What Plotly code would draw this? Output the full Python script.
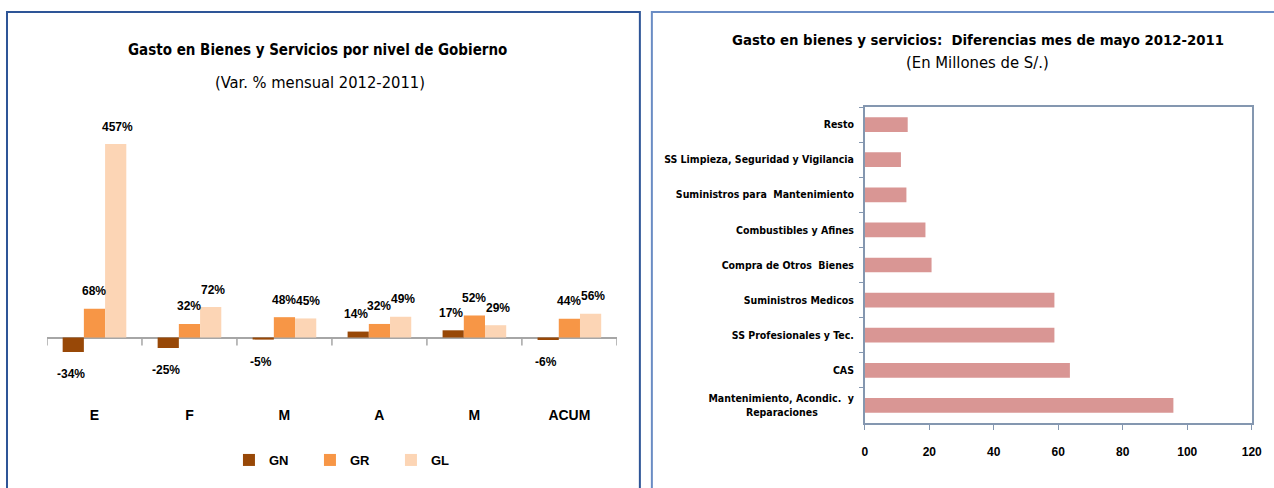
import plotly.graph_objects as go

W, H = 1274, 488
def px(x): return ((x - 3) / 0.99) / W
def py(y): return 1 - y / H

# ---------------- data ----------------
meses = ["E", "F", "M", "A", "M", "ACUM"]
gn = [-34, -25, -5, 14, 17, -6]
gr = [68, 32, 48, 32, 52, 44]
gl = [457, 72, 45, 49, 29, 56]
series_names = ["GN", "GR", "GL"]

conceptos = ["Resto", "SS Limpieza, Seguridad y Vigilancia", "Suministros para  Mantenimiento",
             "Combustibles y Afines", "Compra de Otros  Bienes", "Suministros Medicos",
             "SS Profesionales y Tec.", "CAS",
             "Mantenimiento, Acondic.  y<br>Reparaciones\u00a0\u00a0\u00a0\u00a0\u00a0\u00a0\u00a0\u00a0\u00a0\u00a0\u00a0"]
diferencias = [13.3, 11.2, 12.9, 18.8, 20.7, 58.8, 58.8, 63.6, 95.7]

# ---------------- style ----------------
NARROW = "DejaVu Sans Condensed, Liberation Sans Narrow, sans-serif"
SANS = "Liberation Sans, Arial, sans-serif"
colors = ["#984807", "#F79646", "#FCD5B5"]
bargap = 0.33

L_x0, L_x1 = 47, 617
L_top, L_bot = 100, 405
zero_px = 337.5
scale = (337.5 - 144) / 457.0  # px per %
y_max = (zero_px - L_top) / scale
y_min = -(L_bot - zero_px) / scale

fig = go.Figure()
xs = list(range(len(meses)))
for name, vals, col in zip(series_names, [gn, gr, gl], colors):
    fig.add_trace(go.Bar(x=xs, y=vals, name=name, marker=dict(color=col, line=dict(width=0)),
                         xaxis="x", yaxis="y", hoverinfo="y"))

fig.add_trace(go.Bar(y=conceptos, x=diferencias, orientation="h", showlegend=False,
                     marker=dict(color="#D99694", line=dict(width=0)),
                     xaxis="x2", yaxis="y2", width=0.42))

annotations = []
w = (1 - bargap) / 3
for k, vals in enumerate([gn, gr, gl]):
    for i, v in enumerate(vals):
        annotations.append(dict(x=i + (k - 1) * w, y=v, xref="x", yref="y",
                                text=f"{v}%", showarrow=False,
                                xanchor="center", yanchor="middle",
                                xshift=(k - 1) * 2,
                                yshift=17.5 if v >= 0 else -22,
                                font=dict(family=SANS, size=12, color="#000000", weight="bold")))

# titles
def title(x, y, text, size, bold):
    return dict(x=px(x), y=py(y), xref="paper", yref="paper", showarrow=False,
                xanchor="center", yanchor="middle", text=text,
                font=dict(family=NARROW, size=size, color="#000",
                          weight="bold" if bold else "normal"))

annotations += [
    title(318, 50, "Gasto en Bienes y Servicios por nivel de Gobierno", 15, True),
    title(320, 82, "(Var. % mensual 2012-2011)", 16.4, False),
    title(978, 40, "Gasto en bienes y servicios:  Diferencias mes de mayo 2012-2011", 14.8, True),
    title(978, 63, "(En Millones de S/.)", 16.5, False),
]

shapes = [
    dict(type="rect", xref="paper", yref="paper", x0=px(7), x1=px(640), y0=py(520), y1=py(12),
         line=dict(color="#2E5597", width=2), layer="below"),
    dict(type="rect", xref="paper", yref="paper", x0=px(652), x1=px(1300), y0=py(520), y1=py(12),
         line=dict(color="#6A8CC4", width=2), layer="below"),
]
tick_units = 8 / scale
for b in range(len(meses) + 1):
    shapes.append(dict(type="line", xref="x", yref="y", x0=b - 0.5, x1=b - 0.5, y0=0, y1=-tick_units,
                       line=dict(color="#A6A6A6", width=1.5)))

fig.update_layout(
    width=W, height=H, margin=dict(l=0, r=0, t=0, b=0),
    paper_bgcolor="white", plot_bgcolor="white",
    barmode="group", bargap=bargap, bargroupgap=0,
    showlegend=True,
    legend=dict(orientation="h", x=px(229), y=py(460), xanchor="left", yanchor="middle",
                font=dict(family=SANS, size=13, color="#000", weight="bold"),
                entrywidth=36, entrywidthmode="pixels", itemwidth=30,
                traceorder="normal"),
    xaxis=dict(domain=[px(L_x0), px(L_x1)], range=[-0.5, len(meses) - 0.5],
               tickvals=xs, ticktext=meses,
               showline=False, showgrid=False, zeroline=False, ticks="",
               tickfont=dict(family=SANS, size=14, color="#000", weight="bold"),
               anchor="y", ticklabelstandoff=0, fixedrange=True),
    yaxis=dict(domain=[py(L_bot), py(L_top)], range=[y_min, y_max],
               showticklabels=False, showgrid=False, showline=False,
               zeroline=True, zerolinecolor="#A6A6A6", zerolinewidth=1.5,
               anchor="x", fixedrange=True),
    xaxis2=dict(domain=[px(865), px(1252)], range=[0, 120], dtick=20, tick0=0,
                showline=True, mirror=True, linecolor="#8497B0", linewidth=1.5,
                showgrid=False, zeroline=False, ticks="outside", ticklen=5,
                tickcolor="#8497B0", tickformat="d",
                tickfont=dict(family=SANS, size=12, color="#000", weight="bold"),
                ticklabelstandoff=12, anchor="y2", fixedrange=True),
    yaxis2=dict(domain=[py(423), py(107)], autorange="reversed", type="category",
                showline=True, mirror=True, linecolor="#8497B0", linewidth=1.5,
                showgrid=False, ticks="outside", ticklen=4, tickcolor="#8497B0",
                tickson="boundaries", ticklabelstandoff=7,
                tickfont=dict(family=NARROW, size=10.5, color="#000", weight="bold"),
                anchor="x2", fixedrange=True),
    annotations=annotations, shapes=shapes,
)

fig.write_html("out.html", config={"displayModeBar": False},
               post_script="document.body.style.margin='0';document.body.style.overflow='hidden';")
